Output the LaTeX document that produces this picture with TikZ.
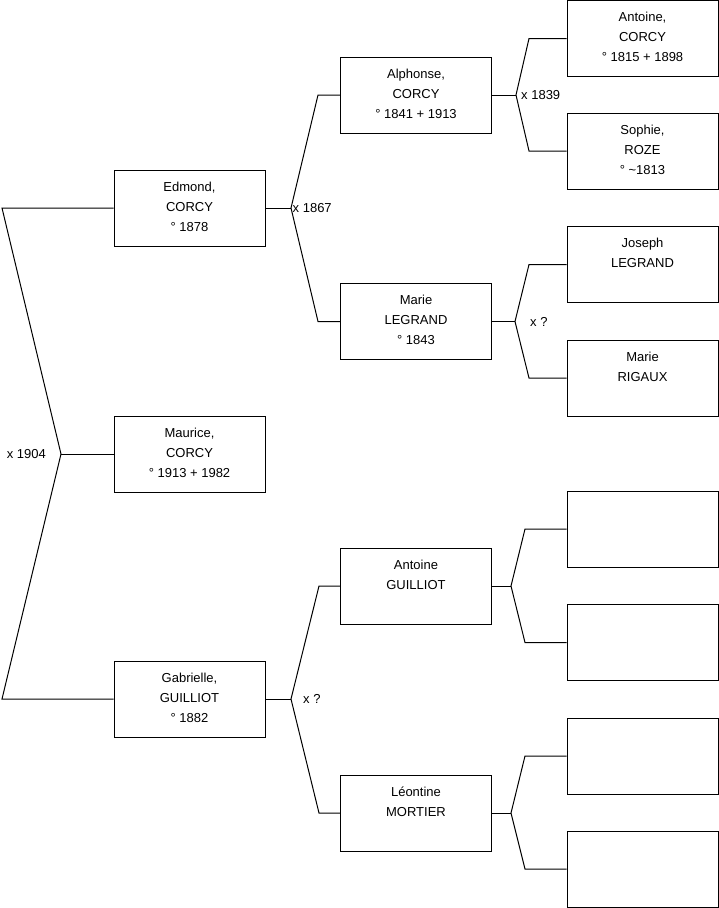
\documentclass[tikz,border=0pt]{standalone}
\usepackage{fontspec}
\setmainfont{Liberation Sans}
\usetikzlibrary{positioning}
\tikzset{
    box/.style={
        rectangle,
        draw=black,
        line width=1pt,
        minimum width=151pt,
        minimum height=76pt,
        inner sep=0pt
    },
    who/.style={
        anchor=north,
        align=center,
        inner sep=0pt,
        font=\fontsize{13}{20}\selectfont
    },
    wed/.style={
        inner sep=0pt,
        font=\fontsize{13}{16}\selectfont
    },
    link/.style={
        line width=1pt,
        line join=miter
    }
}

\begin{document}
\begin{tikzpicture}[x=1pt, y=-1pt]
    \useasboundingbox (0,0) rectangle (719,908);

    % Boxes
    \node (maurice) [box] at (189.5,454) {};
    \node (edmond) [box] at (189.5,208) {};
    \node (gabrielle) [box] at (189.5,699) {};

    \node (alphonse) [box] at (416,95) {};
    \node (marie) [box] at (416,321.5) {};
    \node (antoineg) [box] at (416,586) {};
    \node (leontine) [box] at (416,813) {};

    \node (antoine) [box] at (642.5,38.5) {};
    \node (sophie) [box] at (642.5,151) {};
    \node (joseph) [box] at (642.5,264.5) {};
    \node (marier) [box] at (642.5,378) {};
    \node (empty1) [box] at (642.5,529) {};
    \node (empty2) [box] at (642.5,642.5) {};
    \node (empty3) [box] at (642.5,756) {};
    \node (empty4) [box] at (642.5,869) {};

    % Names
    \node (maurice-t) [who, below=12pt of maurice.north] {Maurice,\\CORCY\\° 1913 + 1982};
    \node (edmond-t) [who, below=12pt of edmond.north] {Edmond,\\CORCY\\° 1878};
    \node (gabrielle-t) [who, below=12pt of gabrielle.north] {Gabrielle,\\GUILLIOT\\° 1882};
    \node (alphonse-t) [who, below=12pt of alphonse.north] {Alphonse,\\CORCY\\° 1841 + 1913};
    \node (marie-t) [who, below=12pt of marie.north] {Marie\\LEGRAND\\° 1843};
    \node (antoineg-t) [who, below=12pt of antoineg.north] {Antoine\\GUILLIOT};
    \node (leontine-t) [who, below=12pt of leontine.north] {Léontine\\MORTIER};
    \node (antoine-t) [who, below=12pt of antoine.north] {Antoine,\\CORCY\\° 1815 + 1898};
    \node (sophie-t) [who, below=12pt of sophie.north] {Sophie,\\ROZE\\° \textasciitilde1813};
    \node (joseph-t) [who, below=12pt of joseph.north] {Joseph\\LEGRAND};
    \node (marier-t) [who, below=12pt of marier.north] {Marie\\RIGAUX};

    % Fork points
    \coordinate (a0) at (61,454);
    \coordinate (a1) at (2,208);
    \coordinate (a2) at (2,699);
    \coordinate (b0) at (291,208);
    \coordinate (b1) at (318,95);
    \coordinate (b2) at (318,321.5);
    \coordinate (c0) at (516,95);
    \coordinate (c1) at (529,38.5);
    \coordinate (c2) at (529,151);
    \coordinate (d0) at (515,321.5);
    \coordinate (d1) at (529,264.5);
    \coordinate (d2) at (529,378);
    \coordinate (e0) at (291,699);
    \coordinate (e1) at (319,586);
    \coordinate (e2) at (319,813);
    \coordinate (g0) at (511,586);
    \coordinate (g1) at (525,529);
    \coordinate (g2) at (525,642.5);
    \coordinate (h0) at (511,813);
    \coordinate (h1) at (525,756);
    \coordinate (h2) at (525,869);

    % Links
    \draw [link] (edmond.west) -- (a1) -- (a0) -- (a2) -- (gabrielle.west);
    \draw [link] (a0) -- (maurice.west);
    \draw [link] (alphonse.west) -- (b1) -- (b0) -- (b2) -- (marie.west);
    \draw [link] (edmond.east) -- (b0);
    \draw [link] (antoine.west) -- (c1) -- (c0) -- (c2) -- (sophie.west);
    \draw [link] (alphonse.east) -- (c0);
    \draw [link] (joseph.west) -- (d1) -- (d0) -- (d2) -- (marier.west);
    \draw [link] (marie.east) -- (d0);
    \draw [link] (antoineg.west) -- (e1) -- (e0) -- (e2) -- (leontine.west);
    \draw [link] (gabrielle.east) -- (e0);
    \draw [link] (empty1.west) -- (g1) -- (g0) -- (g2) -- (empty2.west);
    \draw [link] (antoineg.east) -- (g0);
    \draw [link] (empty3.west) -- (h1) -- (h0) -- (h2) -- (empty4.west);
    \draw [link] (leontine.east) -- (h0);

    % Marriages
    \node (w1904) [wed, left=15pt of a0] {x 1904};
    \node (w1867) [wed, right=1.5pt of b0] {x 1867};
    \node (w1839) [wed, right=5pt of c0] {x 1839};
    \node (wmarie) [wed, right=15pt of d0] {x ?};
    \node (wgabrielle) [wed, right=12pt of e0] {x ?};

\end{tikzpicture}
\end{document}
